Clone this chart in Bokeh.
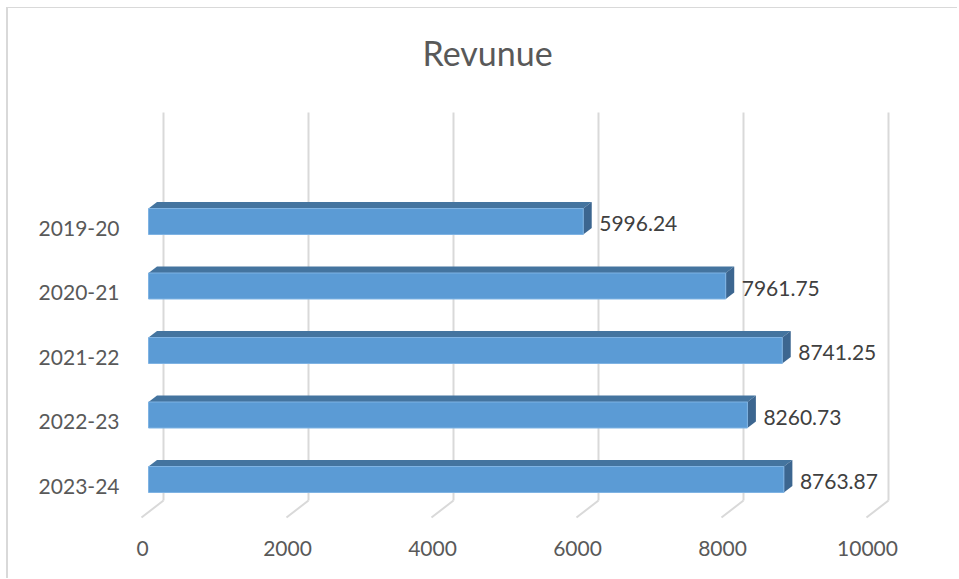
from bokeh.plotting import figure
from bokeh.models import Range1d, LinearAxis, FixedTicker, ColumnDataSource, Title
from bokeh.core.properties import value
from bokeh.embed import file_html
from bokeh.resources import INLINE

categories = ["2019-20", "2020-21", "2021-22", "2022-23", "2023-24"]
revenue = [5996.24, 7961.75, 8741.25, 8260.73, 8763.87]
x_ticks = [0, 2000, 4000, 6000, 8000, 10000]
title = "Revunue"

FONT = "Lato"
PX_PER_UNIT = 0.0725
PX_PER_CAT = 64.5
FL, FR, FT, FB = 125, 951, 85, 525     # frame edges on the page


def xr(zero_px):
    return Range1d((FL - zero_px) / PX_PER_UNIT, (FR - zero_px) / PX_PER_UNIT)


def yr(first_px):
    return Range1d((FB - first_px) / PX_PER_CAT, (FT - first_px) / PX_PER_CAT)


p = figure(width=951, height=571, output_backend="svg", toolbar_location=None,
           x_range=xr(148), y_range=yr(221), x_axis_type=None, y_axis_type=None,
           min_border_left=FL - 8, min_border_right=959 - FR,
           min_border_top=FT - 8, min_border_bottom=579 - FB)
p.margin = (8, 0, 0, 8)
p.grid.visible = False
p.outline_line_color = None
p.background_fill_color = "white"
p.border_fill_color = "white"
p.styles = {"box-shadow": "-2px -1px 0 #d9d9d9"}

p.title = Title(text=title, align="left", offset=297, standoff=25,
                text_font=FONT, text_font_size="34px", text_font_style="normal",
                text_color="#595959")

# axes on ranges shifted the way the 3-D perspective shifts the labels
p.extra_x_ranges = {"labels": xr(142)}
p.extra_y_ranges = {"labels": yr(227.5)}

xa = LinearAxis(x_range_name="labels", ticker=FixedTicker(ticks=x_ticks))
ya = LinearAxis(y_range_name="labels", ticker=FixedTicker(ticks=list(range(len(categories)))),
                major_label_overrides={i: c for i, c in enumerate(categories)})
for a, standoff in ((xa, 9), (ya, 0)):
    a.axis_line_color = None
    a.major_tick_line_color = None
    a.minor_tick_line_color = None
    a.major_label_text_font = FONT
    a.major_label_text_font_size = "21px"
    a.major_label_text_color = "#595959"
    a.major_label_standoff = standoff
p.add_layout(xa, "below")
p.add_layout(ya, "left")

# walls: back-plane gridlines and floor diagonals
back_dx = 15 / PX_PER_UNIT
floor_dx = -7 / PX_PER_UNIT
wall_top = (112 - 221) / PX_PER_CAT
wall_bot = (500 - 221) / PX_PER_CAT
floor_bot = (517 - 221) / PX_PER_CAT
p.segment(x0=[t + back_dx for t in x_ticks], x1=[t + back_dx for t in x_ticks],
          y0=[wall_top] * 6, y1=[wall_bot] * 6, line_color="#d9d9d9", line_width=2)
p.segment(x0=[t + back_dx for t in x_ticks], x1=[t + floor_dx for t in x_ticks],
          y0=[wall_bot] * 6, y1=[floor_bot] * 6, line_color="#d9d9d9", line_width=2)

# bars
pos = list(range(len(categories)))
half = 13 / PX_PER_CAT
dx = 8.5 / PX_PER_UNIT
dy = 6.5 / PX_PER_CAT
p.patches(xs=[[0, v, v + dx, dx] for v in revenue],
          ys=[[i - half, i - half, i - half - dy, i - half - dy] for i in pos],
          fill_color="#44749f", line_color=None)
p.patches(xs=[[v, v + dx, v + dx, v] for v in revenue],
          ys=[[i - half, i - half - dy, i + half - dy, i + half] for i in pos],
          fill_color="#3c6690", line_color=None)
p.hbar(y=pos, left=0, right=revenue, height=26 / PX_PER_CAT,
       fill_color="#5b9bd5", line_color="#7fb3e3", line_width=1)

src = ColumnDataSource(dict(x=revenue, y=pos, t=[f"{v:.2f}" for v in revenue]))
p.text(x="x", y="y", text="t", source=src, x_offset=16, y_offset=2,
       text_font=value(FONT), text_font_size="21px", text_color="#404040",
       text_align="left", text_baseline="middle")

open("out.html", "w").write(file_html(p, INLINE))
